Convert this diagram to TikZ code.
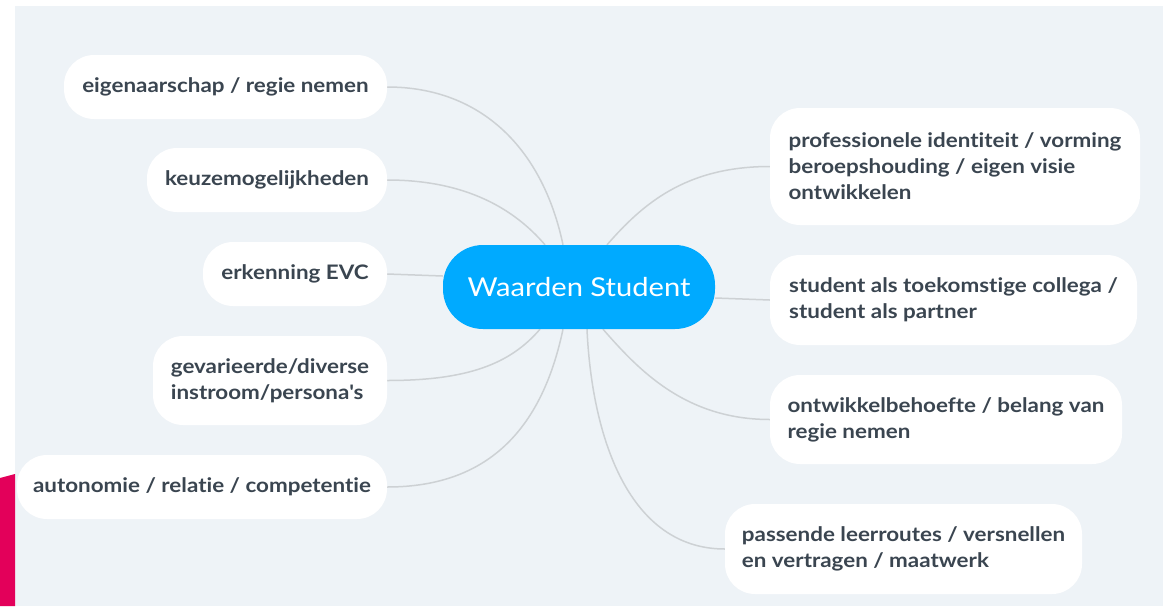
\documentclass[tikz,border=0pt]{standalone}
\usepackage{fontspec}
\setmainfont{Lato}[FakeStretch=1.12, Ligatures={NoCommon,NoRequired,NoContextual}]
\definecolor{panel}{HTML}{EEF3F7}
\definecolor{pinkbar}{HTML}{E3005A}
\definecolor{hub}{HTML}{00AAFF}
\definecolor{txt}{HTML}{3A4550}
\definecolor{link}{HTML}{CDD1D4}
\pgfdeclarelayer{backdrop}
\pgfdeclarelayer{edges}
\pgfsetlayers{backdrop,edges,main}
\begin{document}
\begin{tikzpicture}[x=1pt,y=-1pt,
  leaf/.style={fill=white, rounded corners=30pt, text=txt, inner sep=0pt,
    font=\fontsize{20}{26}\selectfont\bfseries, align=left},
  hubnode/.style={fill=hub, rounded corners=40pt, text=white, inner sep=0pt,
    font=\fontsize{26}{32}\selectfont, minimum width=272pt, minimum height=84pt},
  conn/.style={draw=link, line width=1.5pt}]
\useasboundingbox (0,0) rectangle (1163,606);
\begin{pgfonlayer}{backdrop}
\fill[white] (0,0) rectangle (1163,606);
\fill[panel] (15,6) rectangle (1163,606);
\fill[pinkbar] (0,478) -- (15,474) -- (15,606) -- (0,606) -- cycle;
\end{pgfonlayer}

\node[hubnode] (c) at (579,287) {Waarden Student};

\node[leaf, minimum width=323pt, minimum height=64pt] (l1) at (225.5,87) {eigenaarschap / regie nemen};
\node[leaf, minimum width=240pt, minimum height=64pt] (l2) at (267,180) {keuzemogelijkheden};
\node[leaf, minimum width=184pt, minimum height=64pt] (l3) at (295,274) {erkenning EVC};
\node[leaf, minimum width=234pt, minimum height=89pt] (l4) at (270,380.5) {gevarieerde/diverse\\instroom/persona\textquotesingle s};
\node[leaf, minimum width=370pt, minimum height=64pt] (l5) at (202,487) {autonomie / relatie / competentie};

\node[leaf, minimum width=370pt, minimum height=117pt] (r1) at (955,166.5) {professionele identiteit / vorming\\beroepshouding / eigen visie\\ontwikkelen};
\node[leaf, minimum width=367pt, minimum height=90pt] (r2) at (953.5,300) {student als toekomstige collega /\\student als partner};
\node[leaf, minimum width=352pt, minimum height=89pt] (r3) at (946,419.5) {ontwikkelbehoefte / belang van\\regie nemen};
\node[leaf, minimum width=357pt, minimum height=90pt] (r4) at (903.5,549) {passende leerroutes / versnellen\\en vertragen / maatwerk};

\begin{pgfonlayer}{edges}
\draw[conn] (l1.east) .. controls +(95,0) and +(-20,-95) .. ([xshift=-16pt]c.north);
\draw[conn] (l2.east) .. controls +(80,0) and +(-30,-35) .. ([xshift=-34pt]c.north);
\draw[conn] (l3.east) -- ([yshift=11pt]c.west);
\draw[conn] (l4.east) .. controls +(80,0) and +(-30,35) .. ([xshift=-39pt]c.south);
\draw[conn] (l5.east) .. controls +(105,0) and +(-20,95) .. ([xshift=-16pt]c.south);
\draw[conn] (r1.west) .. controls +(-85,0) and +(35,-40) .. ([xshift=28pt]c.north);
\draw[conn] (r2.west) -- ([yshift=-11pt]c.east);
\draw[conn] (r3.west) .. controls +(-85,0) and +(35,40) .. ([xshift=24pt]c.south);
\draw[conn] (r4.west) .. controls +(-95,0) and +(5,110) .. ([xshift=8pt]c.south);
\end{pgfonlayer}
\end{tikzpicture}
\end{document}
